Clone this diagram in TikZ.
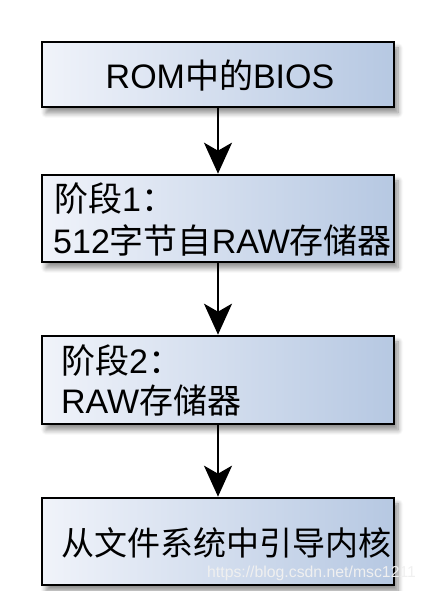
\documentclass[tikz,border=0pt]{standalone}
\usepackage{fontspec}
\setmainfont{Liberation Sans}
\newfontfamily\cjk{Noto Sans CJK SC}
\usetikzlibrary{arrows.meta,shadows.blur}
\definecolor{boxleft}{HTML}{F0F3FA}
\definecolor{boxright}{HTML}{B6C8E2}
\newcommand{\bigtxt}{\fontsize{34}{40}\selectfont}
\tikzset{
  stagebox/.style={draw=black, line width=2.6pt, minimum width=352pt, inner sep=0pt,
    left color=boxleft, right color=boxright, shading angle=90,
    blur shadow={shadow xshift=4pt, shadow yshift=-6pt, shadow blur steps=8, shadow blur radius=5pt, shadow opacity=45}},
  flow/.style={line width=2.4pt, -{Stealth[length=31pt, width=28pt, inset=8pt]}},
  label/.style={anchor=west, inner sep=0pt},
}
\begin{document}
\begin{tikzpicture}[x=1pt,y=1pt]
\useasboundingbox (0,0) rectangle (425,591);
\node[stagebox, minimum height=65pt] (b1) at (218,{591-74.5}) {};
\node (t1) at (220,{591-76}) {\bigtxt ROM{\cjk 中的}BIOS};
\node[stagebox, minimum height=87pt] (b2) at (218,{591-218.5}) {};
\node[label] (t2a) at (54,{591-199}) {\bigtxt{\cjk 阶段}1{\cjk ：}};
\node[label] (t2b) at (53,{591-240}) {\bigtxt 512{\cjk 字节自}RAW{\cjk 存储器}};
\node[stagebox, minimum height=88pt] (b3) at (218,{591-380}) {};
\node[label] (t3a) at (61,{591-361}) {\bigtxt{\cjk 阶段}2{\cjk ：}};
\node[label] (t3b) at (61,{591-401}) {\bigtxt RAW{\cjk 存储器}};
\node[stagebox, minimum height=87pt] (b4) at (218,{591-541.5}) {};
\node[label] (t4) at (61,{591-543}) {\fontsize{33}{40}\selectfont\cjk 从文件系统中引导内核};
\node[label, text=white!88!gray] (wm) at (207,{591-573}) {\fontsize{15.8}{18}\selectfont https://blog.csdn.net/msc1211};
\draw[flow] (b1.south) -- (b2.north);
\draw[flow] (b2.south) -- (b3.north);
\draw[flow] (b3.south) -- (b4.north);
\end{tikzpicture}
\end{document}
